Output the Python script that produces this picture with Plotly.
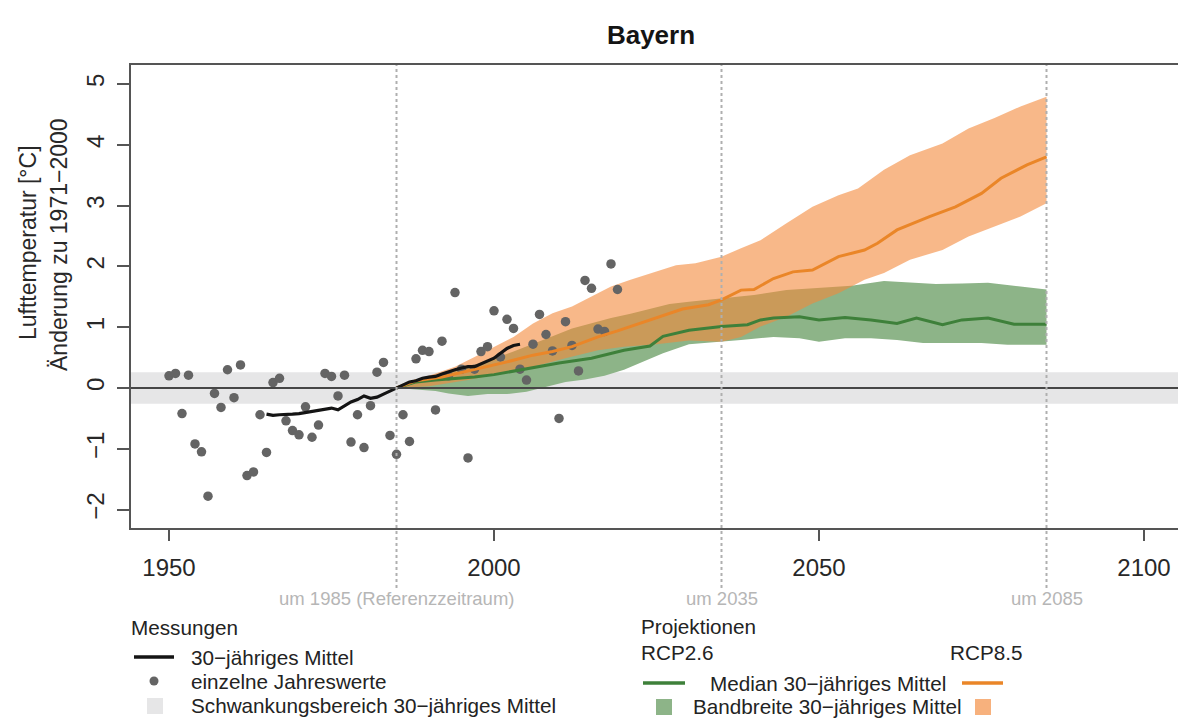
import plotly.graph_objects as go

# ---------------- data ----------------
obs_years = list(range(1950, 2020))
obs_values = [0.20, 0.24, -0.42, 0.21, -0.92, -1.05, -1.78, -0.09, -0.32, 0.30,
              -0.16, 0.38, -1.44, -1.38, -0.44, -1.06, 0.09, 0.16, -0.54, -0.70,
              -0.77, -0.31, -0.81, -0.61, 0.24, 0.19, -0.13, 0.21, -0.89, -0.44,
              -0.98, -0.29, 0.26, 0.42, -0.78, -1.09, -0.44, -0.88, 0.48, 0.62,
              0.60, -0.36, 0.77, 0.20, 1.57, 0.31, -1.15, 0.31, 0.60, 0.68,
              1.27, 0.51, 1.13, 0.98, 0.31, 0.13, 0.72, 1.21, 0.88, 0.61,
              -0.50, 1.09, 0.70, 0.28, 1.77, 1.64, 0.97, 0.93, 2.04, 1.62]

mean_years = list(range(1965, 2005))
mean_values = [-0.43, -0.45, -0.44, -0.44, -0.43, -0.42, -0.40, -0.38, -0.36, -0.35,
               -0.33, -0.36, -0.29, -0.23, -0.19, -0.13, -0.17, -0.15, -0.10, -0.05,
               0.00, 0.05, 0.10, 0.12, 0.16, 0.18, 0.19, 0.23, 0.27, 0.30,
               0.33, 0.35, 0.35, 0.40, 0.45, 0.49, 0.57, 0.65, 0.70, 0.72]

rcp85_med_years = [1985, 1988, 1992, 1996, 1999, 2002, 2006, 2009, 2012, 2016, 2019, 2022,
                   2025, 2029, 2033, 2035, 2038, 2040, 2043, 2046, 2049, 2053, 2057, 2059,
                   2062, 2067, 2071, 2075, 2078, 2082, 2085]
rcp85_med = [0.00, 0.12, 0.18, 0.28, 0.35, 0.43, 0.54, 0.60, 0.68, 0.84, 0.94, 1.05,
             1.15, 1.30, 1.37, 1.45, 1.61, 1.62, 1.80, 1.91, 1.94, 2.16, 2.27, 2.38,
             2.60, 2.82, 2.98, 3.20, 3.45, 3.67, 3.80]

rcp85_hi_years = [1985, 1988, 1991, 1994, 1997, 2000, 2003, 2006, 2009, 2012, 2015, 2018,
                  2021, 2024, 2028, 2031, 2035, 2038, 2041, 2045, 2049, 2053, 2056, 2060,
                  2064, 2069, 2073, 2077, 2081, 2085]
rcp85_hi = [0.00, 0.13, 0.24, 0.35, 0.51, 0.68, 0.84, 1.06, 1.23, 1.34, 1.50, 1.67,
            1.78, 1.88, 2.02, 2.05, 2.16, 2.30, 2.43, 2.71, 2.98, 3.17, 3.28, 3.59,
            3.83, 4.02, 4.27, 4.44, 4.63, 4.79]

rcp85_lo_years = [1985, 1990, 1996, 2001, 2006, 2011, 2016, 2020, 2025, 2030, 2035, 2038,
                  2041, 2045, 2049, 2053, 2057, 2060, 2064, 2069, 2073, 2077, 2081, 2085]
rcp85_lo = [0.00, 0.03, 0.13, 0.24, 0.35, 0.49, 0.62, 0.68, 0.72, 0.78, 0.76, 0.84,
            1.01, 1.17, 1.39, 1.56, 1.78, 1.89, 2.11, 2.27, 2.49, 2.65, 2.82, 3.04]

rcp26_med_years = [1985, 1988, 1991, 1994, 1997, 2000, 2005, 2010, 2015, 2020, 2024, 2026,
                   2030, 2035, 2039, 2041, 2043, 2047, 2050, 2054, 2058, 2062, 2065, 2069,
                   2072, 2076, 2080, 2085]
rcp26_med = [0.00, 0.10, 0.13, 0.15, 0.18, 0.22, 0.32, 0.41, 0.49, 0.62, 0.69, 0.85,
             0.95, 1.01, 1.04, 1.12, 1.15, 1.17, 1.12, 1.16, 1.12, 1.06, 1.15, 1.04,
             1.12, 1.15, 1.05, 1.05]

rcp26_hi_years = [1985, 1988, 1991, 1994, 1997, 2000, 2003, 2006, 2009, 2012, 2015, 2018,
                  2021, 2024, 2027, 2030, 2035, 2040, 2045, 2050, 2055, 2060, 2064, 2068,
                  2072, 2076, 2081, 2085]
rcp26_hi = [0.00, 0.12, 0.20, 0.28, 0.38, 0.48, 0.60, 0.72, 0.85, 0.98, 1.07, 1.15,
            1.22, 1.30, 1.38, 1.42, 1.48, 1.53, 1.61, 1.65, 1.68, 1.76, 1.73, 1.71,
            1.72, 1.73, 1.67, 1.62]

rcp26_lo_years = [1985, 1988, 1991, 1993, 1996, 1999, 2002, 2005, 2008, 2011, 2014, 2017,
                  2020, 2023, 2026, 2030, 2035, 2038, 2043, 2047, 2050, 2054, 2058, 2062,
                  2066, 2071, 2075, 2079, 2085]
rcp26_lo = [0.00, -0.02, -0.05, -0.09, -0.13, -0.10, -0.10, -0.06, 0.02, 0.10, 0.14, 0.20,
            0.30, 0.43, 0.57, 0.72, 0.76, 0.79, 0.84, 0.82, 0.76, 0.82, 0.82, 0.79,
            0.74, 0.74, 0.74, 0.71, 0.71]

band_half_width = 0.26            # Schwankungsbereich +/-
period_years = [1985, 2035, 2085]
period_labels = ["um 1985 (Referenzzeitraum)", "um 2035", "um 2085"]
x_ticks = [1950, 2000, 2050, 2100]
y_ticks = [-2, -1, 0, 1, 2, 3, 4, 5]

# ---------------- styling ----------------
FONT = "Liberation Sans, Arial, Helvetica, sans-serif"
W, H = 1178, 719
ML, MR, MT, MB = 131, 0, 65, 191
PW, PH = W - ML - MR, H - MT - MB

C_OBS = "rgb(100,100,100)"
C_GREEN_BAND = "rgb(141,180,136)"
C_GREEN_LINE = "rgb(62,128,58)"
C_ORANGE_BAND = "rgba(243,136,58,0.6)"
C_ORANGE_BAND_LEG = "rgb(247,177,125)"
C_ORANGE_LINE = "rgb(234,134,40)"
C_GREY_BAND = "rgb(230,230,231)"


def px(x):
    return (x - ML) / PW


def py(y):
    return (H - MB - y) / PH


fig = go.Figure()


def band(xs_hi, ys_hi, xs_lo, ys_lo, color):
    return go.Scatter(x=list(xs_hi) + list(xs_lo)[::-1],
                      y=list(ys_hi) + list(ys_lo)[::-1],
                      fill="toself", fillcolor=color, mode="lines",
                      line=dict(width=0), hoverinfo="skip", showlegend=False)


fig.add_trace(band(rcp26_hi_years, rcp26_hi, rcp26_lo_years, rcp26_lo, C_GREEN_BAND))
fig.add_trace(band(rcp85_hi_years, rcp85_hi, rcp85_lo_years, rcp85_lo, C_ORANGE_BAND))

fig.add_trace(go.Scatter(x=obs_years, y=obs_values, mode="markers",
                         marker=dict(size=9.5, color=C_OBS), showlegend=False))
fig.add_trace(go.Scatter(x=rcp26_med_years, y=rcp26_med, mode="lines",
                         line=dict(color=C_GREEN_LINE, width=3), showlegend=False))
fig.add_trace(go.Scatter(x=rcp85_med_years, y=rcp85_med, mode="lines",
                         line=dict(color=C_ORANGE_LINE, width=3), showlegend=False))
fig.add_trace(go.Scatter(x=mean_years, y=mean_values, mode="lines",
                         line=dict(color="rgb(20,20,20)", width=3.2), showlegend=False))

shapes = []
# grey variability band and zero line
shapes.append(dict(type="rect", xref="paper", yref="y", x0=0, x1=1,
                   y0=-band_half_width, y1=band_half_width,
                   fillcolor=C_GREY_BAND, line=dict(width=0), layer="below"))
shapes.append(dict(type="line", xref="paper", yref="y", x0=0, x1=1, y0=0, y1=0,
                   line=dict(color="rgb(70,70,70)", width=2), layer="above"))
# dotted period lines
for yr in period_years:
    shapes.append(dict(type="line", xref="x", yref="paper", x0=yr, x1=yr,
                       y0=py(588), y1=1, line=dict(color="rgb(175,175,175)", width=2, dash="dot"),
                       layer="above"))

annotations = []
for yr, lab in zip(period_years, period_labels):
    annotations.append(dict(x=yr, xref="x", y=py(598), yref="paper", text=lab,
                            showarrow=False, xanchor="center", yanchor="middle",
                            font=dict(family=FONT, size=18.5, color="rgb(182,182,182)")))

# y-axis title (two lines)
annotations.append(dict(x=px(28), xref="paper", y=py(243), yref="paper",
                        text="Lufttemperatur [°C]", textangle=-90, showarrow=False,
                        xanchor="center", yanchor="middle",
                        font=dict(family=FONT, size=23, color="rgb(40,40,40)")))
annotations.append(dict(x=px(59), xref="paper", y=py(245), yref="paper",
                        text="Änderung zu 1971−2000", textangle=-90, showarrow=False,
                        xanchor="center", yanchor="middle",
                        font=dict(family=FONT, size=23, color="rgb(40,40,40)")))

# ---------------- legend (drawn) ----------------
LEG = dict(family=FONT, size=20.7, color="rgb(35,35,35)")


def text(x, y, s):
    annotations.append(dict(x=px(x), xref="paper", y=py(y), yref="paper", text=s,
                            showarrow=False, xanchor="left", yanchor="middle", font=LEG))


def hline(x0, x1, y, color, width):
    shapes.append(dict(type="line", xref="paper", yref="paper", x0=px(x0), x1=px(x1),
                       y0=py(y), y1=py(y), line=dict(color=color, width=width)))


def square(x0, x1, y0, y1, color):
    shapes.append(dict(type="rect", xref="paper", yref="paper", x0=px(x0), x1=px(x1),
                       y0=py(y1), y1=py(y0), fillcolor=color, line=dict(width=0)))


text(129, 627, "Messungen")
hline(134, 174, 657, "rgb(20,20,20)", 3.5)
text(189, 657, "30−jähriges Mittel")
shapes.append(dict(type="circle", xref="paper", yref="paper", x0=px(149.5), x1=px(158.5),
                   y0=py(685.5), y1=py(676.5), fillcolor=C_OBS, line=dict(width=0)))
text(189, 681, "einzelne Jahreswerte")
square(147, 163, 698, 714, C_GREY_BAND)
text(189, 705, "Schwankungsbereich 30−jähriges Mittel")

text(639, 626, "Projektionen")
text(639, 652, "RCP2.6")
text(948, 652, "RCP8.5")
hline(643, 685, 683, C_GREEN_LINE, 3.5)
text(708, 683, "Median 30−jähriges Mittel")
hline(962, 1003, 683, C_ORANGE_LINE, 3.5)
square(656, 672, 699, 715, C_GREEN_BAND)
text(691, 706, "Bandbreite 30−jähriges Mittel")
square(975, 991, 699, 715, C_ORANGE_BAND_LEG)

x_lo = 1950 + (ML - 169) / 6.5
x_hi = 1950 + (W - 169) / 6.5
y_hi = (388 - MT) / 60.8
y_lo = (388 - (H - MB)) / 60.8

fig.update_layout(
    width=W, height=H,
    margin=dict(l=ML, r=MR, t=MT, b=MB, autoexpand=False),
    paper_bgcolor="white", plot_bgcolor="white",
    font=dict(family=FONT, color="rgb(40,40,40)"),
    title=dict(text="<b>Bayern</b>", x=px(651), xref="paper", xanchor="center",
               y=1 - 35 / H, yref="container", yanchor="middle",
               font=dict(family=FONT, size=26, color="rgb(20,20,20)")),
    xaxis=dict(range=[x_lo, x_hi], tickvals=x_ticks, ticktext=[str(t) for t in x_ticks],
               showgrid=False, zeroline=False, showline=True, mirror=True,
               linecolor="rgb(85,85,85)", linewidth=1.5,
               ticks="outside", ticklen=11, tickwidth=1.5, tickcolor="rgb(85,85,85)",
               ticklabelstandoff=6,
               tickfont=dict(family=FONT, size=24, color="rgb(40,40,40)")),
    yaxis=dict(range=[y_lo, y_hi], tickvals=y_ticks,
               showgrid=False, zeroline=False, showline=True, mirror=False,
               linecolor="rgb(85,85,85)", linewidth=1.5,
               ticks="outside", ticklen=12, tickwidth=1.5, tickcolor="rgb(85,85,85)",
               tickangle=-90, ticklabelstandoff=4,
               tickfont=dict(family=FONT, size=24, color="rgb(40,40,40)")),
    shapes=shapes, annotations=annotations,
    showlegend=False, hovermode=False,
)

fig.write_html("out.html", config={"displayModeBar": False},
               post_script="document.body.style.margin='0';document.body.style.overflow='hidden';")
